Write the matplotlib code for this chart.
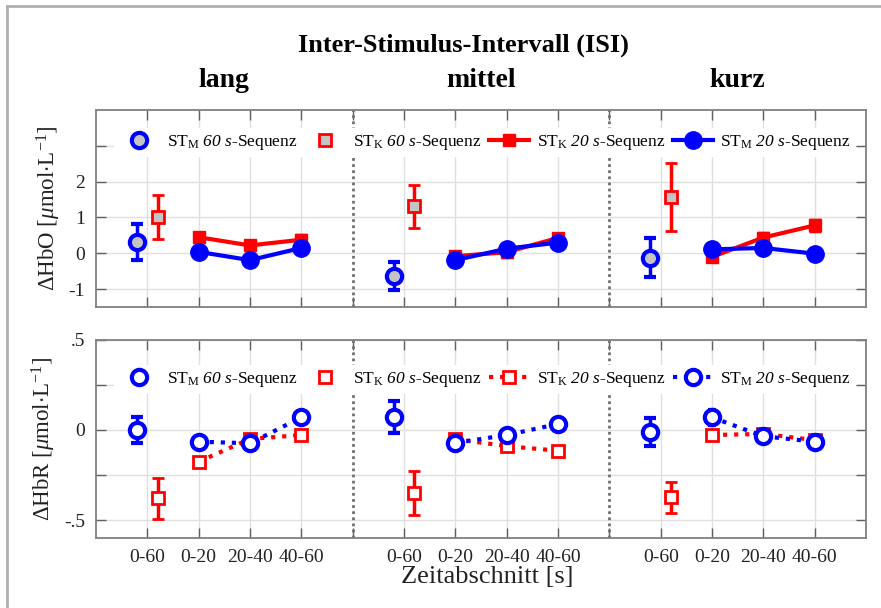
import matplotlib.pyplot as plt
import numpy as np
from matplotlib.lines import Line2D

plt.rcParams["font.family"] = ["Liberation Serif", "DejaVu Serif"]
plt.rcParams["mathtext.fontset"] = "custom"
plt.rcParams["mathtext.rm"] = "Liberation Serif"
plt.rcParams["mathtext.it"] = "Liberation Serif:italic"
plt.rcParams["mathtext.bf"] = "Liberation Serif:bold"
# italic digits: the "it" slot keeps numbers upright, so use "sf" for them
plt.rcParams["mathtext.sf"] = "Liberation Serif:italic"

groups = ["lang", "mittel", "kurz"]
segments = ["0-60", "0-20", "20-40", "40-60"]

# HbO, 60 s sequence (one value per ISI group)
hbo_m60 = [0.31, -0.63, -0.12]
hbo_m60_err = [0.50, 0.40, 0.55]
hbo_k60 = [1.02, 1.31, 1.56]
hbo_k60_err = [0.62, 0.60, 0.95]
# HbO, 20 s sequence (0-20, 20-40, 40-60 per group)
hbo_k20 = [[0.45, 0.22, 0.38], [-0.08, 0.03, 0.43], [-0.10, 0.44, 0.78]]
hbo_k20_err = [[0.13, 0.12, 0.12], [0.12, 0.12, 0.12], [0.12, 0.12, 0.15]]
hbo_m20 = [[0.04, -0.19, 0.15], [-0.19, 0.13, 0.30], [0.11, 0.15, -0.01]]
hbo_m20_err = [[0.10, 0.10, 0.10], [0.10, 0.10, 0.10], [0.10, 0.10, 0.10]]

# HbR, 60 s sequence
hbr_m60 = [0.0, 0.07, -0.013]
hbr_m60_err = [0.07, 0.088, 0.078]
hbr_k60 = [-0.38, -0.35, -0.374]
hbr_k60_err = [0.115, 0.12, 0.085]
# HbR, 20 s sequence
hbr_k20 = [[-0.176, -0.05, -0.028], [-0.05, -0.09, -0.115], [-0.028, -0.022, -0.056]]
hbr_k20_err = [[0.025, 0.02, 0.02], [0.02, 0.02, 0.025], [0.02, 0.02, 0.02]]
hbr_m20 = [[-0.065, -0.074, 0.07], [-0.072, -0.028, 0.033], [0.07, -0.035, -0.065]]
hbr_m20_err = [[0.02, 0.02, 0.03], [0.02, 0.02, 0.02], [0.04, 0.02, 0.02]]

blue = "#0000ff"
red = "#ff0000"
fill_grey = "#c4c4c4"
text_col = "#222222"

fig = plt.figure(figsize=(8.81, 6.08), dpi=100)
ax_top = fig.add_axes([0.109, 0.495, 0.874, 0.324])
ax_bot = fig.add_axes([0.109, 0.115, 0.874, 0.326])


def draw_panel(ax, m60, m60e, k60, k60e, k20, k20e, m20, m20e, open_style, leg_y):
    ls20 = ":" if open_style else "-"
    fill60 = "white" if open_style else fill_grey
    for g in range(3):
        base = 5 * g + 1
        ax.errorbar(base - 0.2, m60[g], yerr=m60e[g], fmt="o", color=blue,
                    mfc=fill60, mec=blue, mew=3, ms=11, elinewidth=2.5,
                    capsize=4.5, capthick=2.5, zorder=4)
        ax.errorbar(base + 0.2, k60[g], yerr=k60e[g], fmt="s", color=red,
                    mfc=fill60, mec=red, mew=2, ms=8.5, elinewidth=2.5,
                    capsize=4.5, capthick=2.5, zorder=4)
        xs = np.arange(base + 1, base + 4)
        if open_style:
            ax.errorbar(xs, k20[g], yerr=k20e[g], fmt="s", ls=ls20, lw=3,
                        color=red, mfc="white", mec=red, mew=2, ms=8.5,
                        elinewidth=2, capsize=3, zorder=4)
            ax.errorbar(xs, m20[g], yerr=m20e[g], fmt="o", ls=ls20, lw=3,
                        color=blue, mfc="white", mec=blue, mew=3, ms=11,
                        elinewidth=2, capsize=3, zorder=5)
        else:
            ax.errorbar(xs, k20[g], yerr=k20e[g], fmt="s", ls=ls20, lw=3,
                        color=red, mfc=red, mec=red, ms=9,
                        elinewidth=2.5, capsize=4, capthick=2.5, zorder=4)
            ax.errorbar(xs, m20[g], yerr=m20e[g], fmt="o", ls=ls20, lw=3,
                        color=blue, mfc=blue, mec=blue, ms=12.5,
                        elinewidth=2.5, capsize=4, zorder=5)

    for sep in (5, 10):
        ax.axvline(sep, color="#707070", ls=(0, (1, 1.2)), lw=2, zorder=2)

    ax.set_xlim(0, 15)
    major = [1, 2, 3, 4, 6, 7, 8, 9, 11, 12, 13, 14]
    ax.set_xticks(major)
    ax.set_xticks([5, 10], minor=True)
    ax.grid(True, which="major", color="#e0e0e0", lw=1, zorder=0)
    ax.tick_params(which="both", direction="in", top=True, right=True,
                   length=7, width=1, color="#606060", labelsize=14,
                   labelcolor=text_col, pad=8)
    for sp in ax.spines.values():
        sp.set_color("#808080")
        sp.set_linewidth(1.3)

    if open_style:
        h = [Line2D([], [], ls="none", marker="o", mfc="white", mec=blue, mew=3, ms=11),
             Line2D([], [], ls="none", marker="s", mfc="white", mec=red, mew=2, ms=8.5),
             Line2D([], [], ls=":", lw=3, color=red, marker="s", mfc="white", mec=red, mew=2, ms=8.5),
             Line2D([], [], ls=":", lw=3, color=blue, marker="o", mfc="white", mec=blue, mew=3, ms=11)]
    else:
        h = [Line2D([], [], ls="none", marker="o", mfc=fill_grey, mec=blue, mew=3, ms=11),
             Line2D([], [], ls="none", marker="s", mfc=fill_grey, mec=red, mew=2, ms=8.5),
             Line2D([], [], ls="-", lw=3, color=red, marker="s", mfc=red, mec=red, ms=9),
             Line2D([], [], ls="-", lw=3, color=blue, marker="o", mfc=blue, mec=blue, ms=12.5)]
    labels = [r"ST$_\mathrm{M}$ $\mathsf{60\ s}$-Sequenz",
              r"ST$_\mathrm{K}$ $\mathsf{60\ s}$-Sequenz",
              r"ST$_\mathrm{K}$ $\mathsf{20\ s}$-Sequenz",
              r"ST$_\mathrm{M}$ $\mathsf{20\ s}$-Sequenz"]
    leg = ax.legend(h, labels, ncol=4, loc="center", bbox_to_anchor=(0.505, leg_y),
                    frameon=True, facecolor="white", edgecolor="none", framealpha=1,
                    fontsize=12.5, handlelength=2.3, columnspacing=0.45,
                    handletextpad=0.45, borderpad=0.3)
    leg.set_zorder(10)


draw_panel(ax_top, hbo_m60, hbo_m60_err, hbo_k60, hbo_k60_err,
           hbo_k20, hbo_k20_err, hbo_m20, hbo_m20_err, open_style=False, leg_y=0.835)
draw_panel(ax_bot, hbr_m60, hbr_m60_err, hbr_k60, hbr_k60_err,
           hbr_k20, hbr_k20_err, hbr_m20, hbr_m20_err, open_style=True, leg_y=0.80)

ax_top.set_ylim(-1.5, 4.0)
ax_top.set_yticks([-1, 0, 1, 2, 3])
ax_top.set_yticklabels(["-1", "0", "1", "2", ""])
ax_top.set_xticklabels([])
ax_top.set_ylabel(r"$\Delta$HbO [$\mathit{\mu}$mol$\cdot$L$^{-1}$]", fontsize=16.5,
                  color=text_col, labelpad=4)

ax_bot.set_ylim(-0.6, 0.5)
ax_bot.set_yticks([-0.5, -0.25, 0, 0.25, 0.5])
ax_bot.set_yticklabels(["-.5", "", "0", "", ".5"])
ax_bot.set_xticklabels(segments * 3)
ax_bot.set_ylabel(r"$\Delta$HbR [$\mathit{\mu}$mol$\cdot$L$^{-1}$]", fontsize=16.5,
                  color=text_col, labelpad=4)

fig.text(0.553, 0.051, "Zeitabschnitt [s]", ha="center", va="center", fontsize=19,
         color=text_col)
fig.text(0.526, 0.926, "Inter-Stimulus-Intervall (ISI)", ha="center", va="center",
         fontsize=19, fontweight="bold")
for g, name in enumerate(groups):
    xf = 0.109 + 0.874 * (5 * g + 2.5) / 15
    fig.text(xf, 0.868, name, ha="center", va="center", fontsize=20, fontweight="bold")

# thin frame along top and left edges
fig.add_artist(Line2D([0.008, 1.0], [0.990, 0.990], color="#b0b0b0", lw=2))
fig.add_artist(Line2D([0.008, 0.008], [0.0, 0.990], color="#b0b0b0", lw=2))

fig.savefig("out.png", dpi=100)
